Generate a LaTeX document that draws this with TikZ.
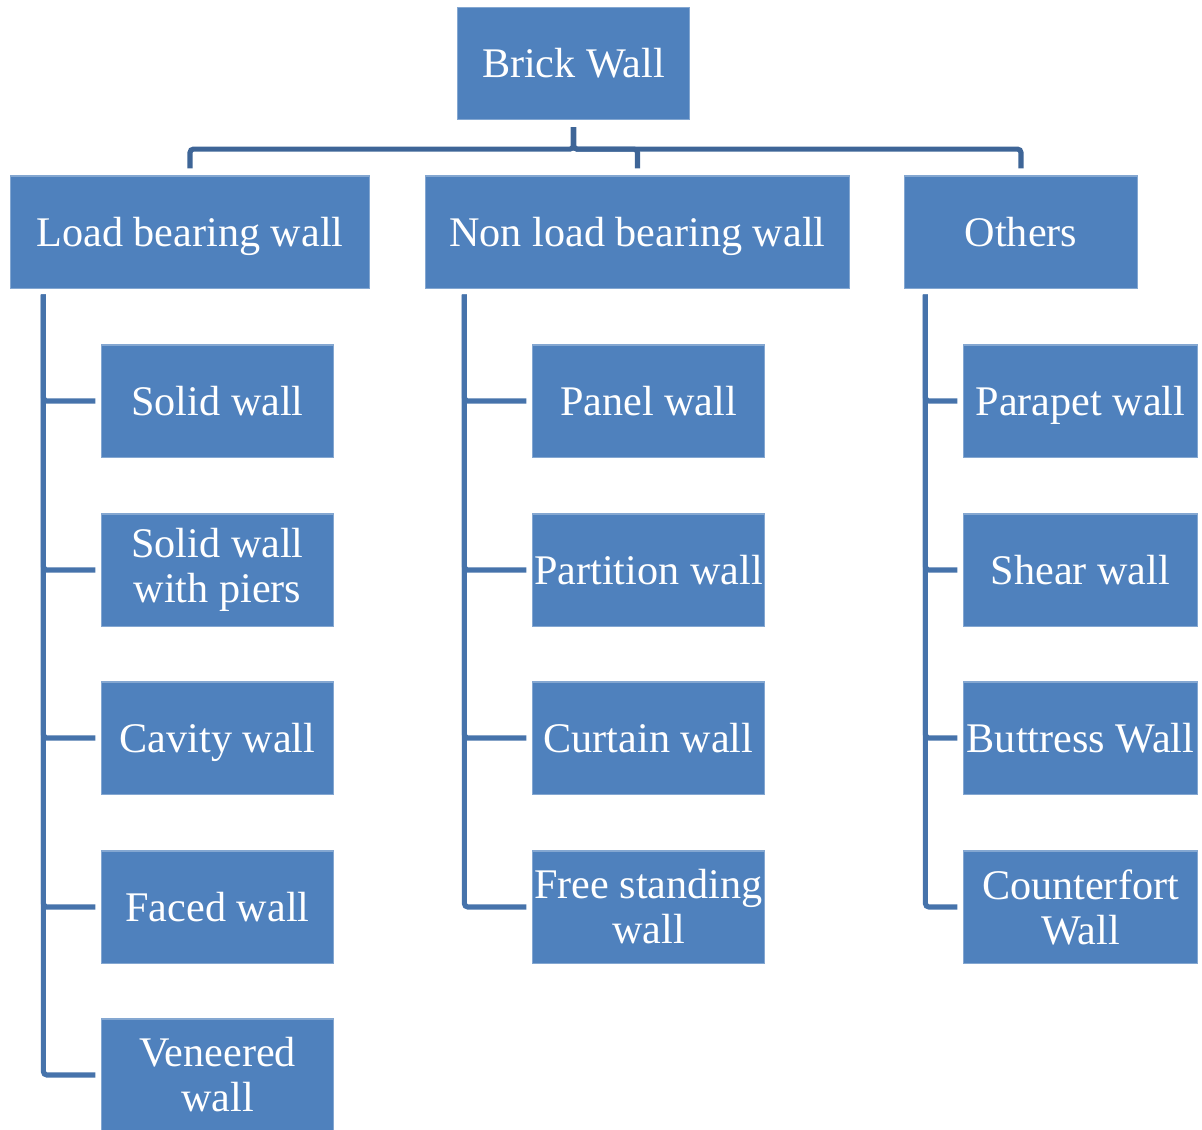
\documentclass[tikz,border=0pt]{standalone}
\usepackage{fontspec}
\setmainfont{Liberation Serif}
\newfontfamily\wallfont{Liberation Serif}
\usetikzlibrary{positioning,calc}
\definecolor{boxblue}{HTML}{4F81BD}
\definecolor{busblue}{HTML}{3E6597}
\definecolor{linkblue}{HTML}{4673AB}

\begin{document}
\begin{tikzpicture}[
    x=0.01cm, y=-0.01cm,
    wallbox/.style={
        rectangle,
        fill=boxblue,
        draw=boxblue!70!white,
        line width=0.3pt,
        text=white,
        minimum width=2.31cm,
        minimum height=1.12cm,
        inner sep=0pt,
        align=center,
        text height=0.28cm,
        text depth=0pt,
        font=\wallfont\fontsize{12}{12.8}\selectfont
    },
    twolines/.style={text height=, text depth=},
    bus/.style={draw=busblue, line width=1.45pt, rounded corners=1pt,
        shorten <=0.07cm, shorten >=0.07cm},
    branch/.style={draw=linkblue, line width=1.45pt, rounded corners=1pt,
        shorten <=0.06cm, shorten >=0.06cm}
]
    \useasboundingbox (0,0) rectangle (1202,1129);

    % Root and the three groups
    \node[wallbox] (brick) at (573.5,63.5) {Brick Wall};
    \node[wallbox, minimum width=3.58cm] (loadbearing) at (190,232) {Load bearing wall};
    \node[wallbox, minimum width=4.23cm] (nonload) at (637.5,232) {Non load bearing wall};
    \node[wallbox, minimum width=2.32cm] (others) at (1021,232) {Others};

    % Load bearing walls
    \node[wallbox] (solid) at (217.5,401) {Solid wall};
    \node[wallbox, twolines] (piers) at (217.5,570) {Solid wall\\with piers};
    \node[wallbox] (cavity) at (217.5,738) {Cavity wall};
    \node[wallbox] (faced) at (217.5,907) {Faced wall};
    \node[wallbox, twolines] (veneered) at (217.5,1075) {Veneered\\wall};

    % Non load bearing walls
    \node[wallbox] (panel) at (648.5,401) {Panel wall};
    \node[wallbox] (partition) at (648.5,570) {Partition wall};
    \node[wallbox] (curtain) at (648.5,738) {Curtain wall};
    \node[wallbox, twolines] (freestanding) at (648.5,907) {Free standing\\wall};

    % Other walls
    \node[wallbox, minimum width=2.33cm] (parapet) at (1080.5,401) {Parapet wall};
    \node[wallbox, minimum width=2.33cm] (shear) at (1080.5,570) {Shear wall};
    \node[wallbox, minimum width=2.33cm] (buttress) at (1080.5,738) {Buttress Wall};
    \node[wallbox, twolines, minimum width=2.33cm] (counterfort) at (1080.5,907) {Counterfort\\Wall};

    % Root to groups
    \draw[bus] (brick.south) -- ++(0,29) -| (loadbearing.north);
    \draw[bus] (brick.south) -- ++(0,29) -| (nonload.north);
    \draw[bus] (brick.south) -- ++(0,29) -| (others.north);

    % Groups to members
    \draw[branch] ([xshift=0.33cm]loadbearing.south west) |- (solid.west);
    \draw[branch] ([xshift=0.33cm]loadbearing.south west) |- (piers.west);
    \draw[branch] ([xshift=0.33cm]loadbearing.south west) |- (cavity.west);
    \draw[branch] ([xshift=0.33cm]loadbearing.south west) |- (faced.west);
    \draw[branch] ([xshift=0.33cm]loadbearing.south west) |- (veneered.west);

    \draw[branch] ([xshift=0.39cm]nonload.south west) |- (panel.west);
    \draw[branch] ([xshift=0.39cm]nonload.south west) |- (partition.west);
    \draw[branch] ([xshift=0.39cm]nonload.south west) |- (curtain.west);
    \draw[branch] ([xshift=0.39cm]nonload.south west) |- (freestanding.west);

    \draw[branch] ([xshift=0.21cm]others.south west) |- (parapet.west);
    \draw[branch] ([xshift=0.21cm]others.south west) |- (shear.west);
    \draw[branch] ([xshift=0.21cm]others.south west) |- (buttress.west);
    \draw[branch] ([xshift=0.21cm]others.south west) |- (counterfort.west);
\end{tikzpicture}
\end{document}
